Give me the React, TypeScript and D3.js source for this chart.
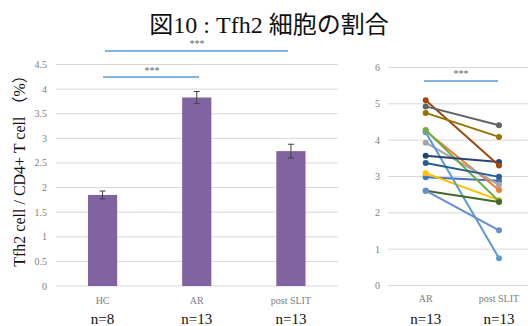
import React from "react";
import * as d3 from "d3";

// Bar panel: group means with SE
const groups = ["HC", "AR", "post SLIT"];
const groupN = ["n=8", "n=13", "n=13"];
const groupMeans = [1.85, 3.83, 2.74];
const groupSE = [0.08, 0.12, 0.14];
const barTicks = [0, 0.5, 1, 1.5, 2, 2.5, 3, 3.5, 4, 4.5];

// Paired panel: each patient before / after SLIT
const pairedGroups = ["AR", "post SLIT"];
const pairedN = ["n=13", "n=13"];
const patientColors = [
  "#4472C4", "#ED7D31", "#A5A5A5", "#FFC000", "#5B9BD5", "#70AD47",
  "#264478", "#9E480E", "#636363", "#997300", "#255E91", "#43682B", "#698ED0",
];
const arValues = [2.98, 4.25, 3.93, 3.09, 4.22, 4.28, 3.57, 5.1, 4.93, 4.75, 3.37, 2.61, 2.61];
const postValues = [2.88, 2.63, 2.77, 2.35, 0.75, 2.32, 3.4, 3.3, 4.41, 4.09, 2.99, 2.3, 1.52];
const pairedTicks = [0, 1, 2, 3, 4, 5, 6];

const serif = '"Liberation Serif", "Times New Roman", "Noto Sans CJK JP", serif';
const gridColor = "#D9D9D9";
const tickColor = "#808080";
const sigColor = "#5B9BD5";

export default function App() {
  // left panel scales
  const xBar = d3.scaleBand<string>().domain(groups).range([55.5, 338]).paddingInner(0.69).paddingOuter(0.345);
  const yBar = d3.scaleLinear().domain([0, 4.5]).range([286, 64.5]);

  // right panel scales
  const xPair = d3.scalePoint<string>().domain(pairedGroups).range([425.7, 499]);
  const yPair = d3.scaleLinear().domain([0, 6]).range([285.5, 67.5]);

  const cx = (g: string) => (xBar(g) as number) + xBar.bandwidth() / 2;
  const line = d3.line<[number, number]>().x((d) => d[0]).y((d) => d[1]);

  return (
    <svg width={528} height={326} style={{ position: "absolute", left: 0, top: 0, background: "#fff" }}>
      <text x={269} y={33} textAnchor="middle" fontFamily={serif} fontSize={24} fill="#111">
        図10 : Tfh2 細胞の割合
      </text>

      {/* left panel */}
      {barTicks.map((t) => (
        <g key={"bt" + t}>
          <line x1={56} x2={338} y1={yBar(t)} y2={yBar(t)} stroke={gridColor} strokeWidth={1} />
          <text x={47} y={yBar(t) + 3.5} textAnchor="end" fontFamily={serif} fontSize={10} fill={tickColor}>
            {t}
          </text>
        </g>
      ))}
      {groups.map((g, i) => {
        const x = xBar(g) as number;
        const c = cx(g);
        const hi = yBar(groupMeans[i] + groupSE[i]);
        const lo = yBar(groupMeans[i] - groupSE[i]);
        return (
          <g key={g}>
            <rect x={x} y={yBar(groupMeans[i])} width={xBar.bandwidth()} height={yBar(0) - yBar(groupMeans[i])} fill="#8064A2" />
            <line x1={c} x2={c} y1={hi} y2={lo} stroke="#404040" strokeWidth={1} />
            <line x1={c - 3} x2={c + 3} y1={hi} y2={hi} stroke="#404040" strokeWidth={1} />
            <line x1={c - 3} x2={c + 3} y1={lo} y2={lo} stroke="#404040" strokeWidth={1} />
            <text x={c} y={304} textAnchor="middle" fontFamily={serif} fontSize={10} fill={tickColor}>
              {g}
            </text>
            <text x={c} y={324} textAnchor="middle" fontFamily={serif} fontSize={15} fill="#111">
              {groupN[i]}
            </text>
          </g>
        );
      })}
      <text
        transform="translate(25,167) rotate(-90)"
        textAnchor="middle"
        fontFamily={serif}
        fontSize={16}
        fill="#111"
      >
        Tfh2 cell / CD4+ T cell （%）
      </text>

      {/* significance brackets */}
      <line x1={105} x2={288} y1={51} y2={51} stroke={sigColor} strokeWidth={1.5} />
      <text x={197} y={47} textAnchor="middle" fontFamily={serif} fontSize={10} fill="#666">***</text>
      <line x1={103} x2={199} y1={77} y2={77} stroke={sigColor} strokeWidth={1.5} />
      <text x={152} y={73.5} textAnchor="middle" fontFamily={serif} fontSize={10} fill="#666">***</text>

      {/* right panel */}
      {pairedTicks.map((t) => (
        <g key={"pt" + t}>
          <line x1={388} x2={528} y1={yPair(t)} y2={yPair(t)} stroke={gridColor} strokeWidth={1} />
          <text x={380} y={yPair(t) + 3.5} textAnchor="end" fontFamily={serif} fontSize={10} fill={tickColor}>
            {t}
          </text>
        </g>
      ))}
      {pairedGroups.map((g, i) => (
        <g key={"pg" + g}>
          <text x={xPair(g)} y={302} textAnchor="middle" fontFamily={serif} fontSize={10} fill={tickColor}>
            {g}
          </text>
          <text x={xPair(g)} y={324} textAnchor="middle" fontFamily={serif} fontSize={15} fill="#111">
            {pairedN[i]}
          </text>
        </g>
      ))}
      <line x1={424} x2={498} y1={81} y2={81} stroke={sigColor} strokeWidth={1.5} />
      <text x={461} y={77} textAnchor="middle" fontFamily={serif} fontSize={10} fill="#666">***</text>

      {patientColors.map((col, i) => {
        const pts: [number, number][] = [
          [xPair("AR") as number, yPair(arValues[i])],
          [xPair("post SLIT") as number, yPair(postValues[i])],
        ];
        return (
          <g key={"p" + i}>
            <path d={line(pts) || ""} stroke={col} strokeWidth={2} fill="none" />
            {pts.map((p, j) => (
              <circle key={j} cx={p[0]} cy={p[1]} r={3} fill={col} />
            ))}
          </g>
        );
      })}
    </svg>
  );
}
